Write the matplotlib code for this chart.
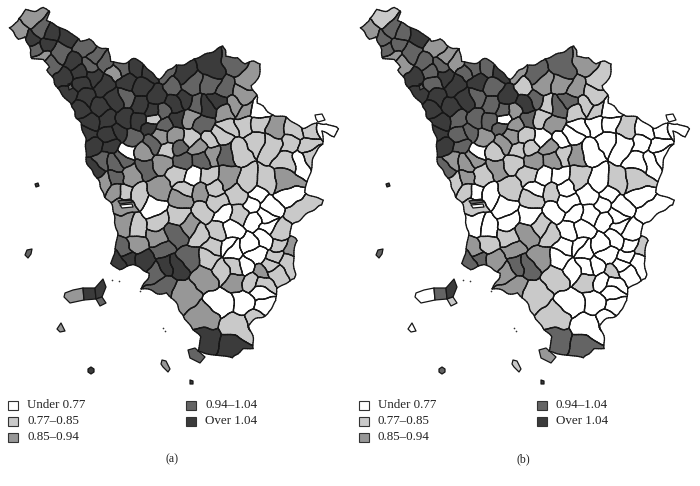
import numpy as np
import matplotlib
matplotlib.use("Agg")
import matplotlib.pyplot as plt
from matplotlib.collections import LineCollection
from matplotlib.patches import Polygon, Rectangle
from matplotlib.path import Path

plt.rcParams['font.family'] = ['Liberation Serif', 'DejaVu Sans']

# class colours, lightest to darkest
class_colors = ['#ffffff', '#c9c9c9', '#979797', '#646464', '#3b3b3b']
class_labels = ['Under 0.77', '0.77\u20130.85', '0.85\u20130.94', '0.94\u20131.04', 'Over 1.04']
edge_color = '#161616'

# mainland coast and border (panel a pixels)
mainland = [(10, 26), (18, 23), (25, 10), (43, 9), (48, 14), (47, 21), (60, 28), (72, 33), (80, 42),
            (88, 40), (100, 48), (108, 50), (112, 62), (125, 62), (137, 60), (147, 65), (158, 78),
            (163, 75), (175, 65), (193, 62), (210, 51), (222, 45), (228, 58), (238, 56), (245, 63),
            (262, 63), (255, 83), (252, 85), (259, 98), (257, 105), (262, 106), (273, 115), (285, 118),
            (303, 127), (317, 125), (327, 123), (338, 127), (340, 129), (335, 135), (323, 133),
            (322, 145), (318, 150), (310, 170), (305, 192), (317, 198), (325, 200), (322, 205),
            (292, 225), (289, 237), (297, 242), (293, 263), (295, 280), (277, 287), (277, 300),
            (267, 313), (250, 325), (253, 348), (244, 348), (233, 358), (217, 355), (198, 352),
            (200, 338), (190, 324), (188, 320), (167, 293), (143, 290), (148, 273), (133, 265),
            (118, 268), (112, 263), (115, 255), (117, 225), (110, 203), (98, 182), (87, 158),
            (82, 125), (78, 120), (70, 103), (53, 82), (47, 72), (50, 68), (45, 60), (33, 58),
            (32, 55), (30, 50), (23, 37), (17, 39)]

# one point per municipality: x, y, class in (a), class in (b)
lunigiana = [(32, 18, 2, 1), (19, 32, 2, 2), (42, 28, 3, 3), (52, 33, 4, 3), (32, 40, 4, 3), (36, 48, 3, 3),
             (65, 37, 4, 4), (45, 45, 4, 3), (62, 52, 3, 3), (42, 58, 2, 2), (50, 66, 3, 2), (75, 62, 4, 3)]
garfagnana = [(85, 47, 3, 2), (80, 72, 4, 3), (97, 57, 3, 2), (106, 63, 3, 2), (90, 66, 3, 3), (115, 73, 2, 3),
              (122, 68, 3, 3)]
lucca_pisa = [(63, 78, 4, 4), (70, 92, 4, 4), (82, 84, 4, 3), (85, 97, 4, 4), (93, 76, 4, 4), (105, 85, 4, 4),
              (115, 100, 4, 4), (100, 107, 4, 4), (80, 110, 4, 4), (90, 122, 4, 4), (108, 120, 4, 3),
              (125, 118, 4, 3), (127, 81, 4, 4), (127, 97, 3, 3), (88, 134, 4, 4), (110, 135, 4, 3),
              (118, 133, 4, 3), (140, 122, 4, 3), (150, 128, 4, 3)]
pistoia_prato = [(150, 72, 4, 4), (135, 68, 4, 3), (158, 95, 4, 4), (142, 88, 4, 3), (140, 105, 4, 3),
                 (152, 112, 4, 3), (165, 72, 3, 2), (173, 87, 3, 1), (183, 75, 4, 3), (163, 113, 3, 2),
                 (153, 117, 1, 0), (165, 125, 3, 2), (185, 100, 4, 3), (175, 105, 4, 4), (178, 118, 4, 3)]
mugello = [(212, 68, 4, 3), (235, 65, 3, 2), (247, 77, 2, 1), (192, 85, 3, 2), (210, 85, 3, 2), (195, 105, 3, 1),
           (207, 107, 4, 3), (225, 90, 3, 2), (218, 100, 4, 3), (242, 97, 2, 1), (235, 105, 2, 1),
           (245, 110, 2, 1), (257, 111, 0, 0), (225, 113, 2, 1), (203, 125, 3, 2), (190, 118, 2, 1)]
casentino = [(228, 128, 1, 0), (245, 125, 1, 0), (260, 125, 1, 0), (275, 127, 2, 1), (295, 130, 1, 0),
             (310, 131, 1, 0), (308, 145, 1, 0), (326, 128, 0, 0), (290, 145, 1, 0), (290, 160, 1, 0),
             (272, 145, 1, 0), (255, 140, 1, 0), (240, 150, 1, 0), (222, 135, 1, 0), (210, 140, 1, 0),
             (190, 137, 1, 0), (175, 137, 2, 1), (160, 135, 2, 2), (132, 137, 3, 2)]
livorno_valdera = [(93, 145, 4, 4), (110, 147, 4, 3), (93, 168, 4, 3), (103, 160, 3, 2), (103, 185, 2, 1),
                   (115, 162, 3, 2), (123, 158, 3, 2), (117, 180, 3, 2), (130, 175, 2, 1), (145, 167, 3, 2),
                   (143, 153, 2, 1), (128, 152, 0, 0), (117, 190, 2, 1), (125, 192, 1, 0), (138, 197, 1, 0),
                   (125, 205, 2, 1), (125, 223, 2, 0), (153, 208, 0, 0), (160, 188, 2, 1), (177, 175, 1, 1),
                   (163, 162, 2, 1), (152, 143, 3, 2), (167, 151, 1, 1)]
siena = [(180, 147, 3, 1), (183, 160, 3, 2), (193, 177, 0, 0), (207, 177, 1, 0), (198, 148, 2, 2),
         (202, 160, 3, 2), (213, 153, 2, 1), (225, 153, 3, 2), (187, 188, 1, 0), (200, 193, 2, 1),
         (182, 200, 2, 1), (217, 202, 1, 0), (202, 212, 1, 0), (223, 215, 0, 0), (180, 215, 1, 0),
         (218, 230, 1, 0), (200, 235, 1, 1), (190, 225, 2, 1), (157, 222, 1, 0), (138, 227, 1, 0),
         (158, 237, 2, 1), (175, 235, 3, 2), (163, 248, 3, 2), (213, 248, 1, 0), (228, 247, 0, 0)]
arezzo = [(285, 182, 2, 1), (298, 160, 0, 0), (312, 155, 1, 0), (248, 182, 1, 0), (265, 183, 1, 1),
          (228, 180, 2, 1), (215, 188, 1, 0), (238, 195, 1, 0), (288, 197, 0, 0), (298, 210, 1, 0),
          (258, 195, 0, 0), (270, 207, 0, 0), (240, 213, 1, 0), (250, 205, 0, 0), (265, 217, 0, 0),
          (232, 230, 0, 0), (280, 233, 1, 0), (257, 222, 0, 0), (268, 227, 0, 0), (250, 243, 0, 0),
          (255, 257, 0, 0), (263, 238, 0, 0), (280, 245, 1, 0), (290, 248, 2, 1), (278, 257, 1, 0),
          (272, 267, 1, 0), (288, 263, 1, 0), (247, 265, 0, 0), (232, 250, 0, 0), (210, 257, 1, 0)]
maremma = [(190, 258, 3, 2), (175, 267, 4, 3), (120, 260, 4, 3), (128, 258, 4, 3), (145, 263, 4, 2),
           (127, 250, 3, 2), (135, 246, 2, 1), (155, 273, 3, 2), (168, 267, 4, 3), (163, 285, 3, 2),
           (187, 293, 2, 1), (205, 278, 2, 1), (223, 270, 1, 0), (237, 282, 2, 1), (233, 267, 1, 0),
           (262, 273, 2, 1), (250, 283, 1, 0), (263, 283, 1, 0), (274, 272, 1, 0), (260, 293, 0, 0),
           (245, 300, 0, 0), (220, 303, 0, 0), (265, 307, 0, 0), (260, 320, 1, 0), (205, 317, 2, 1),
           (237, 327, 1, 0), (207, 340, 4, 3), (230, 347, 4, 3)]

# islands and other separate pieces: outline, class in (a), class in (b)
argentario = ([(188, 350), (195, 348), (205, 357), (200, 363), (190, 358)], 3, 2)
elba_west = ([(65, 293), (73, 290), (83, 288), (84, 300), (70, 303), (64, 297)], 2, 0)
elba_mid = ([(83, 288), (95, 288), (96, 299), (84, 300)], 4, 3)
elba_east = ([(95, 288), (103, 279), (106, 287), (102, 297), (96, 299)], 4, 4)
elba_south = ([(96, 299), (102, 297), (106, 303), (100, 306)], 3, 1)
capraia = ([(27, 250), (32, 249), (31, 254), (28, 258), (25, 255)], 3, 3)
gorgona = ([(35, 184), (38, 183), (39, 186), (36, 187)], 4, 4)
pianosa = ([(61, 323), (63, 327), (65, 331), (60, 332), (57, 329)], 2, 0)
montecristo = ([(91, 367), (94, 369), (94, 372), (91, 374), (88, 372), (88, 369)], 4, 3)
giglio = ([(162, 360), (166, 361), (170, 369), (168, 372), (163, 367), (161, 364)], 2, 1)
giannutri = ([(190, 380), (193, 381), (193, 384), (190, 384)], 4, 4)
exclave = ([(315, 115), (322, 114), (325, 120), (318, 122), (316, 119)], 0, 0)
lake = ([(68, 84), (72, 83), (73, 88), (69, 90)], 3, 3)
lagoon_top = ([(118, 201), (130, 199), (133, 202), (120, 204)], 3, 3)
lagoon_low = ([(120, 205), (132, 204), (133, 207), (122, 208)], 0, 0)
islands = [argentario, elba_west, elba_mid, elba_east, elba_south, capraia, gorgona, pianosa,
           montecristo, giglio, giannutri, exclave, lake, lagoon_top, lagoon_low]
# tiny rocks, x and y
rocks_x = [112, 119, 140, 163, 165]
rocks_y = [280, 281, 291, 328, 331]

seeds = np.array(lunigiana + garfagnana + lucca_pisa + pistoia_prato + mugello + casentino
                 + livorno_valdera + siena + arezzo + maremma, dtype=float)
land = Path(np.array(mainland + mainland[:1], dtype=float))


def clip_halfplane(poly, p, q):
    # keep the part of poly nearer to p than to q
    mid = (p + q) / 2
    n = q - p
    out = []
    for a, b in zip(poly, np.roll(poly, -1, axis=0)):
        da = np.dot(a - mid, n)
        db = np.dot(b - mid, n)
        if da <= 0:
            out.append(a)
        if da * db < 0:
            out.append(a + (b - a) * da / (da - db))
    return np.array(out)


def wobble(pts):
    # the cells are straight-sided, bend them a little so borders look hand drawn
    pts = np.asarray(pts, dtype=float)
    x, y = pts[:, 0], pts[:, 1]
    dx = 1.3 * np.sin(y / 5.3 + 1.1 * np.sin(x / 9.0)) + 0.7 * np.sin((x + y) / 2.9)
    dy = 1.3 * np.sin(x / 4.7 + 1.1 * np.sin(y / 8.0)) + 0.7 * np.sin((x - y) / 3.1)
    return np.column_stack([x + dx, y + dy])


def densify(a, b, step=2.0):
    n = max(int(np.hypot(*(b - a)) / step), 1)
    return a + np.outer(np.arange(n) / n, b - a)


def dense_ring(poly):
    poly = np.asarray(poly, dtype=float)
    return np.vstack([densify(a, b) for a, b in zip(poly, np.roll(poly, -1, axis=0))])


def on_land(pt):
    # sea crossings left by clipping a concave outline are thrown away
    return land.contains_point(pt, radius=0.6) or land.contains_point(pt, radius=-0.6)


cells = []
borders = []
for i in range(len(seeds)):
    poly = np.array(mainland, dtype=float)
    p = seeds[i, :2]
    order = np.argsort(np.hypot(*(seeds[:, :2] - p).T))
    for j in order[1:]:
        poly = clip_halfplane(poly, p, seeds[j, :2])
        if len(poly) < 3:
            break
    if len(poly) < 3:
        cells.append(None)
        continue
    cells.append(wobble(dense_ring(poly)))
    for a, b in zip(poly, np.roll(poly, -1, axis=0)):
        if np.hypot(*(b - a)) < 0.01:
            continue
        # test short pieces, a long crossing can have its middle near the coast
        pts = np.vstack([densify(a, b), b])
        bent = wobble(pts)
        for k in range(len(pts) - 1):
            if on_land((pts[k] + pts[k + 1]) / 2):
                borders.append(bent[k:k + 2])

fig = plt.figure(figsize=(7.0, 4.86), dpi=100)
ax_a = fig.add_axes([0, 0, 350 / 700, 1])
ax_b = fig.add_axes([351 / 700, 0, 349 / 700, 1])

for ax, col, width, tag in [(ax_a, 2, 350, '(a)'), (ax_b, 3, 349, '(b)')]:
    ax.set_xlim(0, width)
    ax.set_ylim(486, 0)
    ax.axis('off')

    for i, ring in enumerate(cells):
        if ring is not None:
            ax.add_patch(Polygon(ring, closed=True, facecolor=class_colors[int(seeds[i, col])],
                                 edgecolor='none'))
    ax.add_collection(LineCollection(borders, colors=edge_color, linewidths=0.95, capstyle='round'))
    for outline, cls_a, cls_b in islands:
        ax.add_patch(Polygon(outline, closed=True, facecolor=class_colors[cls_a if col == 2 else cls_b],
                             edgecolor=edge_color, linewidth=0.9, joinstyle='round'))
    ax.plot(rocks_x, rocks_y, ls='none', marker='o', ms=1.2, color='#333333', mew=0)

    # legend, two columns
    rows = [(8, 405), (8, 421), (8, 437), (186, 405), (186, 421)]
    for (x, y), color, label in zip(rows, class_colors, class_labels):
        ax.add_patch(Rectangle((x, y - 4.5), 10, 9, facecolor=color, edgecolor='#333333', linewidth=0.8))
        ax.text(x + 19, y, label, fontsize=9.4, color='#222222', va='center', ha='left')
    ax.text(172, 459, tag, fontsize=8.6, color='#222222', va='center', ha='center')

fig.savefig('out.png', dpi=100)
